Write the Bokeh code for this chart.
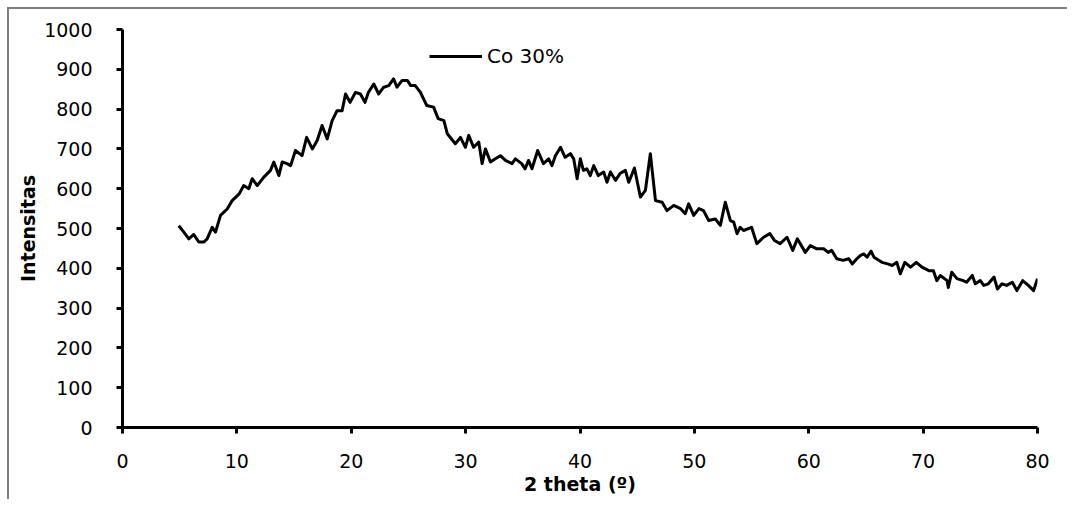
from bokeh.plotting import figure
from bokeh.models import Legend, LegendItem, FixedTicker, Range1d
from bokeh.embed import file_html
from bokeh.resources import INLINE

# ---- data ----
theta = [4.92, 5.36, 5.8, 6.23, 6.67, 7.1, 7.4, 7.84, 8.13, 8.57, 9.15, 9.59, 10.2, 10.6,
         11.04, 11.34, 11.78, 12.36, 12.94, 13.23, 13.67, 13.96, 14.4, 14.7, 15.12, 15.7,
         16.1, 16.6, 17.02, 17.45, 17.9, 18.33, 18.76, 19.2, 19.5, 19.9, 20.37, 20.8, 21.2,
         21.5, 21.97, 22.4, 22.84, 23.28, 23.7, 24.0, 24.45, 24.9, 25.2, 25.6, 26.05, 26.6,
         27.2, 27.6, 28.1, 28.4, 29.1, 29.55, 29.98, 30.27, 30.7, 31.15, 31.44, 31.73, 32.17,
         32.6, 33.04, 33.48, 34.06, 34.35, 34.9, 35.2, 35.5, 35.8, 36.3, 36.8, 37.26, 37.55,
         37.85, 38.3, 38.7, 39.16, 39.45, 39.75, 40.03, 40.3, 40.6, 40.9, 41.2, 41.6, 42.07,
         42.36, 42.66, 43.1, 43.5, 43.97, 44.26, 44.76, 45.28, 45.72, 46.15, 46.6, 47.18,
         47.6, 48.2, 48.78, 49.2, 49.5, 49.94, 50.4, 50.8, 51.25, 51.83, 52.27, 52.7, 53.15,
         53.44, 53.73, 54.0, 54.3, 55.0, 55.46, 56.05, 56.6, 57.0, 57.5, 58.1, 58.6, 59.0,
         59.7, 60.14, 60.7, 61.3, 61.7, 62.0, 62.45, 63.0, 63.5, 63.8, 64.2, 64.5, 64.8, 65.1,
         65.45, 65.7, 66.4, 66.9, 67.3, 67.7, 68.0, 68.4, 68.9, 69.4, 69.9, 70.5, 70.9, 71.2,
         71.5, 72.1, 72.2, 72.5, 72.96, 73.5, 73.8, 74.3, 74.56, 75.0, 75.3, 75.7, 76.2, 76.5,
         76.9, 77.3, 77.8, 78.2, 78.7, 79.2, 79.66, 80.0]
intensity = [507, 491, 474, 485, 466, 466, 474, 503, 491, 533, 549, 570, 587, 608,
             600, 625, 608, 629, 646, 667, 633, 667, 663, 658, 696, 683,
             729, 700, 721, 759, 725, 771, 796, 796, 838, 817, 842, 838, 817,
             842, 863, 838, 855, 859, 876, 855, 872, 872, 859, 859, 842, 809,
             805, 776, 771, 738, 713, 729, 704, 734, 704, 717, 663, 700, 667,
             675, 683, 671, 663, 675, 663, 650, 671, 650, 696, 663, 675, 658,
             683, 704, 679, 688, 675, 625, 675, 646, 650, 633, 658, 633, 642,
             616, 642, 621, 638, 646, 616, 652, 579, 596, 688, 570, 566,
             545, 558, 550, 537, 562, 533, 550, 545, 520, 524, 508, 566, 520,
             516, 487, 503, 495, 503, 462, 478, 487, 470, 462, 478, 445, 474,
             440, 457, 449, 449, 440, 445, 424, 420, 424, 411, 424, 432, 436, 428,
             443, 428, 415, 411, 407, 415, 386, 415, 403, 415, 403, 394, 394, 369,
             382, 369, 352, 390, 374, 369, 365, 382, 361, 369, 357, 361, 378, 348,
             361, 357, 365, 344, 369, 357, 344, 374]
series_name = "Co 30%"
x_ticks = [0, 10, 20, 30, 40, 50, 60, 70, 80]
y_ticks = [0, 100, 200, 300, 400, 500, 600, 700, 800, 900, 1000]
x_title = "2 theta (\u00ba)"
y_title = "Intensitas"

FONT = "DejaVu Sans"
GRAY = "#7f7f7f"

p = figure(width=1067, height=499, output_backend="svg", toolbar_location=None,
           x_range=Range1d(0, 80), y_range=Range1d(0, 1000),
           min_border_left=122, min_border_right=30, min_border_top=29, min_border_bottom=72)
p.border_fill_color = "white"
p.outline_line_color = None
p.xgrid.visible = False
p.ygrid.visible = False
p.background_fill_color = "white"

# grey chart-area border (top and left edges) as a CSS overlay inside the figure element
p.stylesheets = [
    ":host { position: relative; }"
    ":host::after { content: ''; position: absolute; left: 7px; top: 7px; right: 0; bottom: 0;"
    f" border-top: 2px solid {GRAY}; border-left: 2px solid {GRAY};"
    " pointer-events: none; z-index: 1000; }"
]

r = p.line(theta, intensity, line_color="black", line_width=3, line_join="round")

for ax in (p.xaxis[0], p.yaxis[0]):
    ax.axis_line_color = "black"
    ax.axis_line_width = 3
    ax.major_tick_line_color = "black"
    ax.major_tick_line_width = 3
    ax.major_tick_out = 6
    ax.major_tick_in = 0
    ax.minor_tick_line_color = None
    ax.major_label_text_font = FONT
    ax.major_label_text_font_size = "19px"
    ax.major_label_text_color = "black"
    ax.axis_label_text_font = FONT
    ax.axis_label_text_font_size = "19px"
    ax.axis_label_text_font_style = "bold"
    ax.axis_label_text_color = "black"

p.xaxis[0].ticker = FixedTicker(ticks=x_ticks)
p.yaxis[0].ticker = FixedTicker(ticks=y_ticks)
p.xaxis[0].axis_label = x_title
p.yaxis[0].axis_label = y_title
p.xaxis[0].major_label_standoff = 20
p.yaxis[0].major_label_standoff = 24
p.xaxis[0].axis_label_standoff = 2
p.yaxis[0].axis_label_standoff = 2

legend = Legend(items=[LegendItem(label=series_name, renderers=[r])],
                location=(307, 359), padding=0, margin=0,
                border_line_color=None, background_fill_alpha=0,
                glyph_width=53, glyph_height=20, label_height=20,
                label_standoff=5, label_text_font=FONT,
                label_text_font_size="20px", label_text_color="black")
p.add_layout(legend, "center")

open("out.html", "w").write(file_html(p, INLINE))
